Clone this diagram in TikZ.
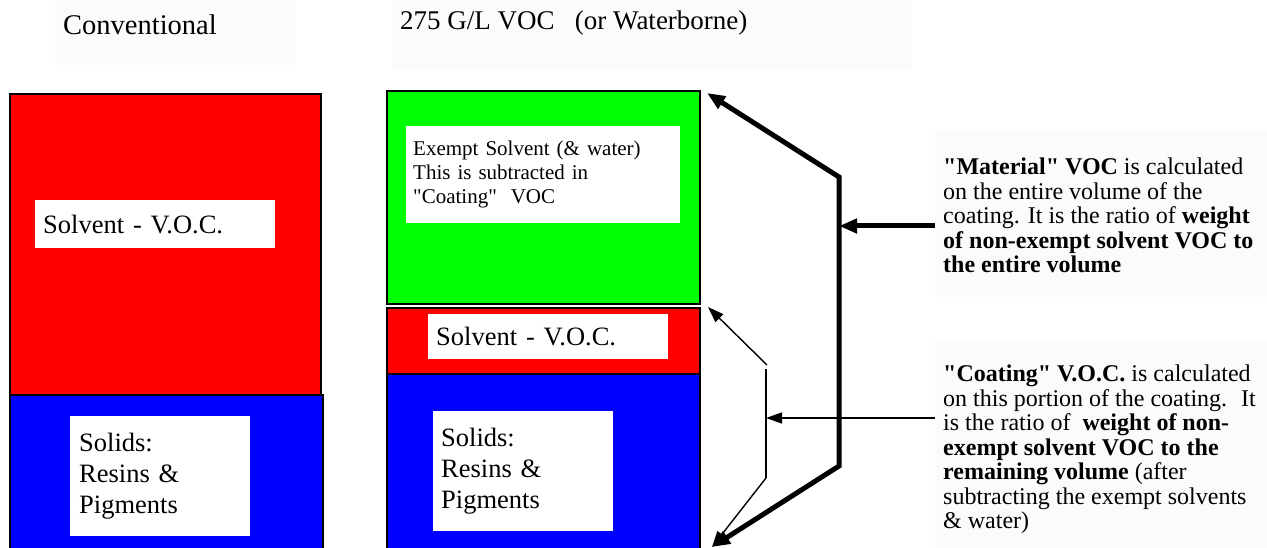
\documentclass[tikz,border=0pt]{standalone}
\usepackage{fontspec}
\setmainfont{Liberation Serif}
\usetikzlibrary{arrows.meta, calc}
\definecolor{solvred}{HTML}{FF0000}
\definecolor{exgreen}{HTML}{00FF00}
\definecolor{solidblue}{HTML}{0000FF}
\definecolor{faint}{HTML}{FBFBFB}
\newcommand{\qt}[1]{\textquotedbl#1\textquotedbl}

\begin{document}
\begin{tikzpicture}[
    x=1pt, y=-1pt,
    band/.style={rectangle, draw=black, line width=1.8pt, anchor=north west, inner sep=0pt},
    whitebox/.style={rectangle, fill=white, anchor=north west, inner ysep=0pt, align=left},
    note/.style={anchor=north west, inner sep=0pt, align=left,
                 font=\fontsize{24}{24.5}\selectfont},
    fat/.style={line width=5pt},
    fattip/.style={-{Triangle[length=18pt, width=14pt]}},
    thinarr/.style={line width=1.4pt, -{Triangle[length=16pt, width=11pt]}}
  ]
  \useasboundingbox (0,0) rectangle (1267,548);

  % faint backgrounds behind the free texts
  \fill[faint] (55,0) rectangle (295,65);
  \fill[faint] (393,0) rectangle (912,70);
  \fill[faint] (935,130) rectangle (1267,297);
  \fill[faint] (935,340) rectangle (1267,548);

  % headings
  \node[anchor=base west, inner sep=0pt, font=\fontsize{28.5}{34}\selectfont] (convtitle) at (63,35) {Conventional};
  \node[anchor=base west, inner sep=0pt, font=\fontsize{27}{32}\selectfont] (lowtitle) at (400,30) {275 G/L VOC \ \ (or Waterborne)};

  % conventional column
  \node[band, fill=solvred, minimum width=311pt, minimum height=301pt] (lsolv) at (9,93) {};
  \node[band, fill=solidblue, minimum width=313pt, minimum height=175pt] (lsolid) at (9,394) {};
  \node[whitebox, inner xsep=8pt, text width=224pt, minimum height=48pt,
        font=\fontsize{26.5}{30}\selectfont] (lsolvtxt) at (35,200) {Solvent - V.O.C.};
  \node[whitebox, inner xsep=9pt, text width=162pt, minimum height=120pt,
        font=\fontsize{26.5}{31}\selectfont] (lsolidtxt) at (70,416) {Solids:\\Resins \&\\Pigments};

  % low VOC column
  \node[band, fill=exgreen, minimum width=313pt, minimum height=213pt] (mexempt) at (386,90) {};
  \node[band, fill=solvred, minimum width=313pt, minimum height=66pt] (msolv) at (386,307) {};
  \node[band, fill=solidblue, minimum width=313pt, minimum height=195pt] (msolid) at (386,373) {};
  \node[whitebox, inner xsep=7pt, text width=260pt, minimum height=97pt,
        font=\fontsize{21}{24}\selectfont] (mexempttxt) at (406,126)
        {Exempt Solvent (\& water)\\This is subtracted in\\\qt{Coating} \ VOC\\[4pt]};
  \node[whitebox, inner xsep=8pt, text width=224pt, minimum height=45pt,
        font=\fontsize{26.5}{30}\selectfont] (msolvtxt) at (428,314) {Solvent - V.O.C.};
  \node[whitebox, inner xsep=8pt, text width=164pt, minimum height=120pt,
        font=\fontsize{26.5}{31}\selectfont] (msolidtxt) at (433,411) {Solids:\\Resins \&\\Pigments};

  % explanations
  \node[note] (mattxt) at (943,158)
    {\textbf{\qt{Material} VOC} is calculated\\on the entire volume of the\\coating. It is the ratio of \textbf{weight}\\\textbf{of non-exempt solvent VOC to}\\\textbf{the entire volume}};
  \node[note] (coattxt) at (943,365)
    {\textbf{\qt{Coating} V.O.C.} is calculated\\on this portion of the coating. \ It\\is the ratio of \ \textbf{weight of non-}\\\textbf{exempt solvent VOC to the}\\\textbf{remaining volume} (after\\subtracting the exempt solvents\\\& water)};

  % brackets
  \coordinate (tiptop) at (707,93);
  \coordinate (tipmid) at (708,307);
  \coordinate (tipbot) at (712,547);
  \coordinate (mtop) at (839,177);
  \coordinate (mbot) at (839,466);
  \coordinate (cknee) at (767,365);
  \coordinate (ctop) at (766,369);
  \coordinate (cbot) at (766,478);
  \coordinate (matin) at ($(mattxt.north west)+(-8,68)$);
  \coordinate (coatin) at ($(coattxt.north west)+(-8,53)$);

  \draw[fat, {Triangle[length=18pt, width=14pt]}-{Triangle[length=18pt, width=14pt]}]
    (tiptop) -- (mtop) -- (mbot) -- (tipbot);
  \draw[fat, fattip] (matin) -- (matin -| mtop);

  \draw[line width=2.6pt] (ctop) -- (cbot);
  \draw[thinarr] (cbot) -- (tipbot);
  \draw[thinarr] (cknee) -- (tipmid);
  \draw[thinarr] (coatin) -- (coatin -| ctop);
\end{tikzpicture}
\end{document}
